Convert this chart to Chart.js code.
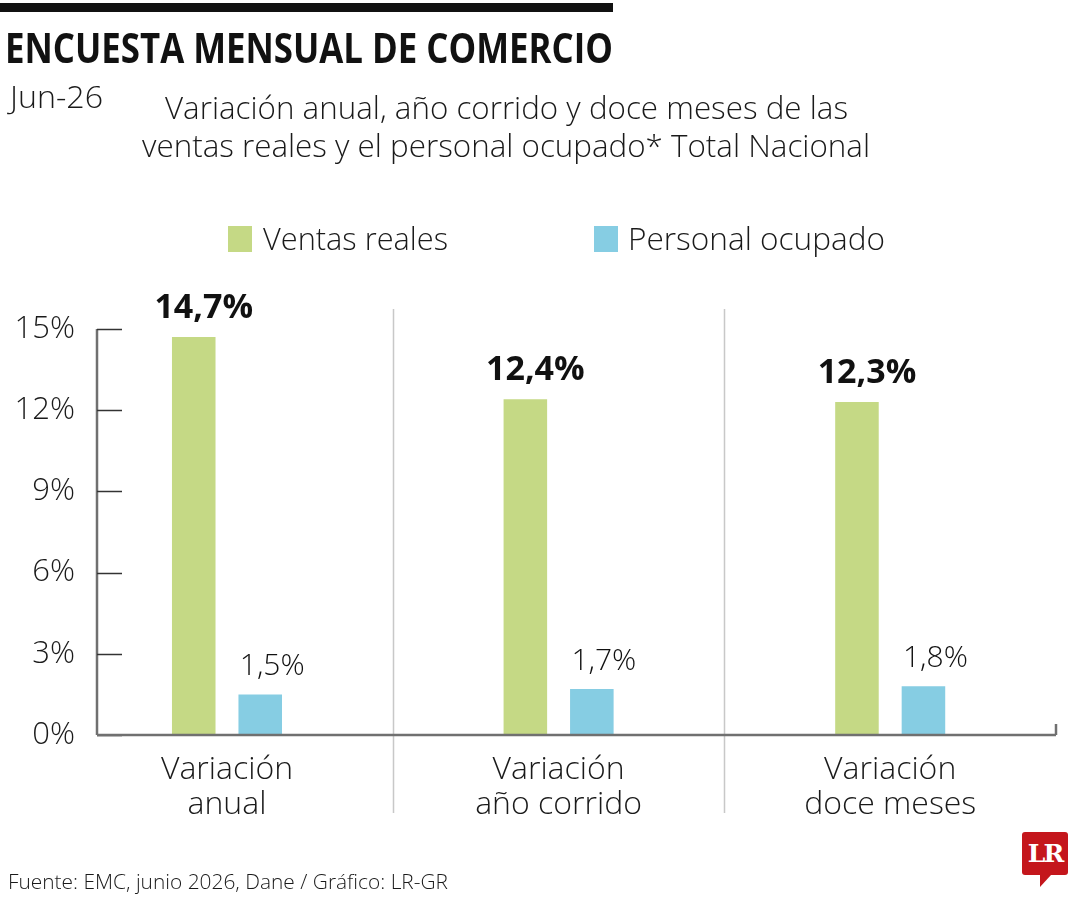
<!DOCTYPE html>
<html>
<head>
<meta charset="utf-8">
<script src="https://cdn.jsdelivr.net/npm/chart.js@4.4.1/dist/chart.umd.min.js"></script>
<style>
body{margin:0;background:#fff;}
#wrap{position:relative;width:1080px;height:900px;overflow:hidden;font-family:'Open Sans',sans-serif;color:#1a1a1a;}
canvas{position:absolute;left:0;top:0;}
.t{position:absolute;white-space:nowrap;line-height:1;transform-origin:0 0;display:block;}
.sq{position:absolute;width:24px;height:26px;}
#bar{position:absolute;left:0;top:3px;width:613px;height:9px;background:#111;}
#logo{position:absolute;left:1022px;top:832px;width:46px;height:43px;background:#c4161c;border-radius:3px;color:#fff;
  font:bold 25px 'DejaVu Serif',serif;text-align:center;line-height:43px;letter-spacing:-2px;}
#tail{position:absolute;left:1040px;top:875px;width:0;height:0;border-top:12px solid #c4161c;border-right:11px solid transparent;}
</style>
</head>
<body>
<div id="wrap">
  <canvas id="c" width="1080" height="900"></canvas>
  <div id="bar"></div>
  <div class="t" data-w="608" style="left:5px;top:26px;font-size:42px;font-weight:700;color:#111;">ENCUESTA MENSUAL DE COMERCIO</div>
  <div class="t" data-w="93" style="left:10px;top:81px;font-size:31px;font-weight:300;">Jun-26</div>
  <div class="t" data-w="683" style="left:165px;top:92px;font-size:31px;font-weight:300;">Variación anual, año corrido y doce meses de las</div>
  <div class="t" data-w="728" style="left:142px;top:130px;font-size:31px;font-weight:300;">ventas reales y el personal ocupado* Total Nacional</div>
  <div id="legend"></div>
  <div class="t" data-w="440" style="left:8px;top:871px;font-size:21px;font-weight:300;">Fuente: EMC, junio 2026, Dane / Gráfico: LR-GR</div>
  <div id="logo">LR</div>
  <div id="tail"></div>
</div>
<script>
// datos
const categories = [['Variación', 'anual'], ['Variación', 'año corrido'], ['Variación', 'doce meses']];
const seriesNames = ['Ventas reales', 'Personal ocupado'];
const ventasReales = [14.7, 12.4, 12.3];
const personalOcupado = [1.5, 1.7, 1.8];
const yTicks = [0, 3, 6, 9, 12, 15];
const seriesColors = ['#c5d985', '#86cde3'];

// leyenda en html
const legendPos = [[228, 263, 185], [594, 628, 257]];
const legend = document.getElementById('legend');
seriesNames.forEach((n, i) => {
    const p = legendPos[i];
    legend.innerHTML += `
        <div class="sq" style="left:${p[0]}px;top:226px;background:${seriesColors[i]}"></div>
        <div class="t" data-w="${p[2]}" style="left:${p[1]}px;top:223px;font-size:31px;font-weight:300;">${n}</div>
    `;
});

function fitTexts(){
    document.querySelectorAll('.t[data-w]').forEach(el => {
        el.style.transform = 'none';
        const w = el.getBoundingClientRect().width;
        el.style.transform = 'scaleX(' + (el.dataset.w / w) + ')';
    });
}
fitTexts();
document.fonts.ready.then(fitTexts);

function fmt(v){ return v.toFixed(1).replace('.', ',') + '%'; }

function line(ctx, x1, y1, x2, y2){
    ctx.beginPath(); ctx.moveTo(x1, y1); ctx.lineTo(x2, y2); ctx.stroke();
}

const extras = {
    id: 'extras',
    afterDatasetsDraw(chart){
        const ctx = chart.ctx, a = chart.chartArea, x = chart.scales.x, y = chart.scales.y;
        ctx.save();
        // separadores
        ctx.strokeStyle = '#c8c8c8'; ctx.lineWidth = 1.5;
        for (let i = 0; i < categories.length - 1; i++){
            const px = Math.round(x.getPixelForValue(i + 0.5)) + 0.5;
            line(ctx, px, a.top - 20, px, a.bottom + 78);
        }
        // eje y
        ctx.strokeStyle = '#707070'; ctx.lineWidth = 2.5;
        line(ctx, a.left, a.top, a.left, a.bottom);
        ctx.strokeStyle = '#333'; ctx.lineWidth = 1.5;
        yTicks.forEach(v => {
            const py = Math.round(y.getPixelForValue(v)) + 0.5;
            line(ctx, a.left, py, a.left + 25, py);
        });
        // eje x
        ctx.strokeStyle = '#707070'; ctx.lineWidth = 2.5;
        line(ctx, a.left, a.bottom, a.right, a.bottom);
        line(ctx, a.right, a.bottom, a.right, a.bottom - 11);
        // etiquetas
        ctx.fillStyle = '#111';
        ctx.textAlign = 'center';
        ctx.textBaseline = 'alphabetic';
        chart.data.datasets.forEach((ds, di) => {
            const meta = chart.getDatasetMeta(di);
            ctx.font = di === 0 ? "bold 34px 'Open Sans'" : "300 30px 'Open Sans'";
            meta.data.forEach((bar, i) => {
                ctx.fillText(fmt(ds.data[i].y), bar.x + (di === 0 ? 10 : 12), bar.y - 19);
            });
        });
        ctx.restore();
    }
};

const chart = new Chart(document.getElementById('c'), {
    type: 'bar',
    data: {
        datasets: [
            {label: seriesNames[0], data: ventasReales.map((v, i) => ({x: i, y: v})), backgroundColor: seriesColors[0]},
            {label: seriesNames[1], data: personalOcupado.map((v, i) => ({x: i, y: v})), backgroundColor: seriesColors[1]}
        ]
    },
    options: {
        responsive: false,
        animation: false,
        devicePixelRatio: 1,
        categoryPercentage: 0.401,
        barPercentage: 0.655,
        layout: {padding: {top: 329, right: 24, bottom: 0, left: 0}},
        plugins: {legend: {display: false}, tooltip: {enabled: false}},
        scales: {
            x: {
                type: 'linear', min: -0.392, max: 2.5, offset: false,
                grid: {display: false, drawTicks: false, offset: false},
                border: {display: false},
                afterBuildTicks: s => { s.ticks = categories.map((c, i) => ({value: i})); },
                afterFit: s => { s.height = 165; },
                ticks: {
                    callback: v => categories[v],
                    font: {family: 'Open Sans', size: 32, weight: 300, lineHeight: 1.1},
                    color: '#1a1a1a', padding: 17, maxRotation: 0, autoSkip: false
                }
            },
            y: {
                min: 0, max: 15,
                afterBuildTicks: s => { s.ticks = yTicks.map(v => ({value: v})); },
                afterFit: s => { s.width = 97; },
                grid: {display: false, drawTicks: false},
                border: {display: false},
                ticks: {
                    callback: v => v + '%',
                    font: {family: 'Open Sans', size: 31, weight: 300},
                    color: '#1a1a1a', padding: 22
                }
            }
        }
    },
    plugins: [extras]
});
</script>
</body>
</html>
